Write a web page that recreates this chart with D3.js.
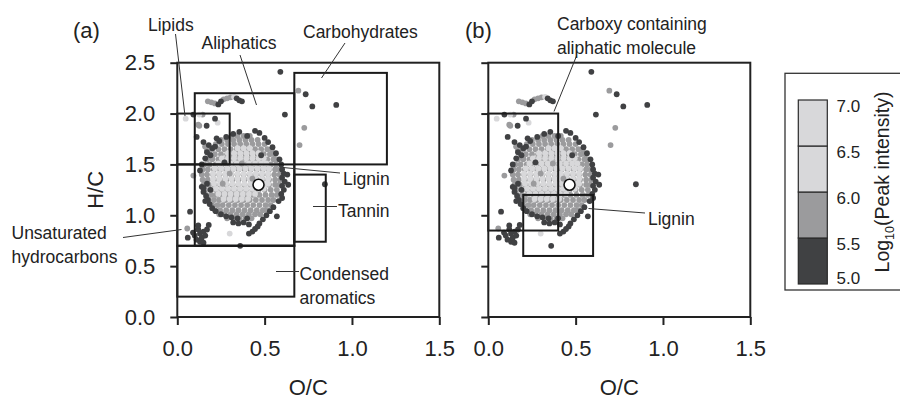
<!DOCTYPE html>
<html>
<head>
<meta charset="utf-8">
<script src="https://cdn.jsdelivr.net/npm/d3@7"></script>
<style>
body { margin: 0; background: #fff; }
svg text { font-family: "Liberation Sans", Arial, Helvetica, sans-serif; fill: #222; }
</style>
</head>
<body>
<svg id="chart" width="900" height="399"></svg>
<script>
// ---- data ----
// dense cloud, medium intensity (5.5-6.0): [H/C, [O/C ...]]
var blobMidRows = [
    [1.78, [0.31, 0.345, 0.38, 0.415]],
    [1.74, [0.25, 0.285, 0.32, 0.355, 0.39, 0.425, 0.46]],
    [1.70, [0.22, 0.255, 0.29, 0.325, 0.36, 0.395, 0.43, 0.465, 0.50]],
    [1.65, [0.20, 0.235, 0.27, 0.305, 0.34, 0.375, 0.41, 0.445, 0.48, 0.515, 0.54]],
    [1.60, [0.185, 0.215, 0.25, 0.285, 0.32, 0.355, 0.39, 0.425, 0.46, 0.495, 0.53, 0.555]],
    [1.55, [0.17, 0.20, 0.235, 0.27, 0.305, 0.34, 0.375, 0.41, 0.445, 0.48, 0.515, 0.55, 0.57]],
    [1.50, [0.155, 0.185, 0.22, 0.255, 0.29, 0.325, 0.36, 0.395, 0.43, 0.465, 0.50, 0.535, 0.565]],
    [1.45, [0.145, 0.175, 0.21, 0.245, 0.28, 0.315, 0.35, 0.385, 0.42, 0.455, 0.49, 0.525, 0.56, 0.585]],
    [1.40, [0.14, 0.17, 0.205, 0.24, 0.275, 0.31, 0.345, 0.38, 0.415, 0.45, 0.485, 0.52, 0.555, 0.585]],
    [1.35, [0.145, 0.175, 0.21, 0.245, 0.28, 0.315, 0.35, 0.385, 0.42, 0.455, 0.49, 0.525, 0.56, 0.59]],
    [1.30, [0.15, 0.18, 0.21, 0.245, 0.28, 0.315, 0.35, 0.385, 0.42, 0.455, 0.49, 0.525, 0.56, 0.585]],
    [1.25, [0.16, 0.19, 0.22, 0.255, 0.29, 0.325, 0.36, 0.395, 0.43, 0.465, 0.50, 0.535, 0.57]],
    [1.20, [0.165, 0.195, 0.225, 0.26, 0.295, 0.33, 0.365, 0.40, 0.435, 0.47, 0.505, 0.54, 0.57]],
    [1.15, [0.18, 0.21, 0.24, 0.275, 0.31, 0.345, 0.38, 0.415, 0.45, 0.485, 0.52, 0.55]],
    [1.10, [0.20, 0.23, 0.26, 0.295, 0.33, 0.365, 0.40, 0.435, 0.47, 0.505, 0.535]],
    [1.05, [0.215, 0.245, 0.28, 0.315, 0.35, 0.385, 0.42, 0.455, 0.49, 0.515]],
    [1.01, [0.24, 0.27, 0.305, 0.34, 0.375, 0.41, 0.445, 0.475]],
    [0.97, [0.285, 0.32, 0.355, 0.39, 0.425]]
];

// dense cloud, high intensity (6.0-7.0)
var blobLightRows = [
    [1.66, [0.345, 0.38, 0.415]],
    [1.61, [0.29, 0.325, 0.36, 0.395, 0.43, 0.465]],
    [1.56, [0.255, 0.29, 0.325, 0.36, 0.395, 0.43, 0.465, 0.495]],
    [1.51, [0.235, 0.27, 0.305, 0.34, 0.375, 0.41, 0.445, 0.48, 0.51]],
    [1.46, [0.215, 0.25, 0.285, 0.32, 0.355, 0.39, 0.425, 0.46, 0.495, 0.525]],
    [1.41, [0.205, 0.24, 0.275, 0.31, 0.345, 0.38, 0.415, 0.45, 0.485, 0.52]],
    [1.36, [0.205, 0.24, 0.275, 0.31, 0.345, 0.38, 0.415, 0.45, 0.485, 0.52]],
    [1.31, [0.21, 0.245, 0.28, 0.315, 0.35, 0.385, 0.42, 0.455, 0.49, 0.52]],
    [1.26, [0.22, 0.255, 0.29, 0.325, 0.36, 0.395, 0.43, 0.465, 0.495]],
    [1.21, [0.235, 0.27, 0.305, 0.34, 0.375, 0.41, 0.445]],
    [1.16, [0.265, 0.30, 0.335, 0.37, 0.405]]
];

// single points, low intensity (5.0-5.5): [O/C, H/C]
var darkPts = [
    [0.28, 1.77], [0.32, 1.80], [0.355, 1.82], [0.40, 1.78], [0.445, 1.83], [0.47, 1.81],
    [0.50, 1.76],
    [0.15, 1.72], [0.18, 1.69], [0.20, 1.66], [0.216, 1.675], [0.225, 1.757], [0.24, 1.73],
    [0.17, 1.62], [0.19, 1.59], [0.16, 1.56],
    [0.52, 1.72], [0.545, 1.67], [0.565, 1.61],
    [0.585, 1.55], [0.595, 1.50], [0.60, 1.45], [0.61, 1.41], [0.60, 1.37], [0.615, 1.33],
    [0.60, 1.29], [0.61, 1.25], [0.595, 1.21], [0.60, 1.17], [0.58, 1.14],
    [0.63, 1.40], [0.635, 1.30],
    [0.14, 1.50], [0.13, 1.44], [0.14, 1.28], [0.15, 1.23],
    [0.165, 1.19], [0.175, 1.15], [0.185, 1.11], [0.16, 1.14],
    [0.15, 1.27], [0.17, 1.31], [0.19, 1.25], [0.27, 1.52], [0.48, 1.59],
    [0.20, 1.07], [0.22, 1.04], [0.25, 1.01], [0.28, 0.99], [0.31, 0.98], [0.345, 0.97],
    [0.40, 0.97], [0.35, 0.92], [0.38, 0.93], [0.32, 0.93], [0.41, 0.91],
    [0.47, 0.92], [0.49, 0.96], [0.51, 1.00], [0.53, 1.04], [0.55, 1.08], [0.43, 0.84],
    [0.445, 0.865], [0.46, 0.89], [0.57, 0.99], [0.41, 0.82],
    [0.06, 0.78], [0.09, 0.83], [0.10, 0.80], [0.11, 0.76], [0.12, 0.86], [0.13, 0.82],
    [0.13, 0.74], [0.14, 0.78], [0.15, 0.84], [0.15, 0.73], [0.16, 0.80], [0.17, 0.86],
    [0.12, 0.90], [0.18, 0.905], [0.073, 1.035], [0.36, 0.70],
    [0.092, 1.99], [0.216, 1.95], [0.168, 1.88], [0.111, 1.77], [0.616, 1.99], [0.59, 2.41],
    [0.235, 2.09], [0.25, 2.12], [0.34, 2.15], [0.355, 2.13], [0.37, 2.12],
    [0.735, 2.19], [0.773, 2.07], [0.91, 2.085], [0.845, 1.305]
];

// single points, medium intensity
var midPts = [
    [0.145, 1.99], [0.126, 1.88], [0.12, 1.89], [0.159, 1.675], [0.092, 1.39], [0.057, 0.87],
    [0.175, 2.12], [0.195, 2.11], [0.215, 2.10], [0.265, 2.14], [0.285, 2.15], [0.305, 2.16],
    [0.693, 2.225], [0.727, 1.86], [0.70, 1.69],
    [0.17, 1.64], [0.18, 1.61], [0.19, 1.58], [0.20, 1.56],
    [0.30, 1.41], [0.37, 1.51], [0.43, 1.36], [0.26, 1.31]
];

// single points, high intensity
var lightPts = [
    [0.048, 1.95], [0.126, 1.99], [0.231, 1.91], [0.325, 2.165], [0.30, 0.82]
];

// mean composition (open circle)
var meanPt = [0.465, 1.30];

// compound class boxes: [O/C min, O/C max, H/C min, H/C max]
var boxesA = [
    [0, 0.3, 1.5, 2.0],
    [0.1, 0.67, 0.7, 2.2],
    [0, 0.67, 0.7, 1.5],
    [0.67, 1.2, 1.5, 2.4],
    [0.67, 0.85, 0.74, 1.4],
    [0, 0.67, 0.2, 0.7]
];
var boxesB = [
    [0, 0.4, 0.85, 2.0],
    [0.2, 0.6, 0.6, 1.2]
];

var xTicks = [0, 0.5, 1.0, 1.5];
var yTicks = [0, 0.5, 1.0, 1.5, 2.0, 2.5];

// colour bar: log10 peak intensity classes
var legendBands = [[5.0, 5.5], [5.5, 6.0], [6.0, 6.5], [6.5, 7.0]];
var legendTicks = [5.0, 5.5, 6.0, 6.5, 7.0];

// ---- styling / layout ----
var grey = {dark: "#404143", mid: "#9b9b9d", light: "#d8d8da"};
var bandColor = ["#404143", "#9b9b9d", "#d8d8da", "#d8d8da"];
var dotR = 2.9;
var plotTop = 62.7, plotBottom = 317, plotW = 262;

// annotations, pixel positions: text lines, text x, first baseline, leader line
var notesA = [
    {lines: ["Lipids"], x: 148, y: 31, line: [175.5, 34, 185, 116]},
    {lines: ["Aliphatics"], x: 201.5, y: 49, line: [240, 55, 256.5, 105]},
    {lines: ["Carbohydrates"], x: 303, y: 38, line: [345, 43, 321.5, 78]},
    {lines: ["Lignin"], x: 343, y: 184.5, line: [340, 173, 283, 167.5]},
    {lines: ["Tannin"], x: 338, y: 216.5, line: [313, 206.5, 337, 206.5]},
    {lines: ["Condensed", "aromatics"], x: 299.5, y: 280, line: [276, 271.5, 299, 271.5]},
    {lines: ["Unsaturated", "hydrocarbons"], x: 11.5, y: 238.5, line: [123, 237.5, 181.5, 229.5]}
];
var notesB = [
    {lines: ["Carboxy containing", "aliphatic molecule"], x: 557, y: 29.5, line: [576.5, 56, 554, 111.5]},
    {lines: ["Lignin"], x: 648, y: 225, line: [645, 213, 588.5, 208.5]}
];

var panels = [
    {tag: "(a)", tagX: 73, left: 177.3, boxes: boxesA, notes: notesA, yLabels: true},
    {tag: "(b)", tagX: 465, left: 488.3, boxes: boxesB, notes: notesB, yLabels: false}
];

function flattenRows(rows) {
    var out = [];
    rows.forEach(function(r) {
        r[1].forEach(function(oc) { out.push([oc, r[0]]); });
    });
    return out;
}

var layers = [
    {pts: flattenRows(blobMidRows), color: grey.mid},
    {pts: flattenRows(blobLightRows), color: grey.light},
    {pts: midPts, color: grey.mid},
    {pts: lightPts, color: grey.light},
    {pts: darkPts, color: grey.dark}
];

var svg = d3.select("#chart");

panels.forEach(function(p) {
    // set the ranges
    var x = d3.scaleLinear().domain([0, 1.5]).range([p.left, p.left + plotW]);
    var y = d3.scaleLinear().domain([0, 2.5]).range([plotBottom, plotTop]);

    var g = svg.append("g");

    // scatter
    layers.forEach(function(L) {
        g.append("g").selectAll("circle")
            .data(L.pts)
            .enter().append("circle")
            .attr("cx", function(d) { return x(d[0]); })
            .attr("cy", function(d) { return y(d[1]); })
            .attr("r", dotR)
            .style("fill", L.color);
    });

    g.append("circle")
        .attr("cx", x(meanPt[0]))
        .attr("cy", y(meanPt[1]))
        .attr("r", 5.5)
        .style("fill", "#fff")
        .style("stroke", "#111")
        .style("stroke-width", 1.6);

    // class boxes
    g.selectAll(".box")
        .data(p.boxes)
        .enter().append("rect")
        .attr("class", "box")
        .attr("x", function(d) { return x(d[0]); })
        .attr("y", function(d) { return y(d[3]); })
        .attr("width", function(d) { return x(d[1]) - x(d[0]); })
        .attr("height", function(d) { return y(d[2]) - y(d[3]); })
        .style("fill", "none")
        .style("stroke", "#1a1a1a")
        .style("stroke-width", 2);

    // frame
    g.append("rect")
        .attr("x", x(0)).attr("y", y(2.5))
        .attr("width", x(1.5) - x(0)).attr("height", y(0) - y(2.5))
        .style("fill", "none").style("stroke", "#222").style("stroke-width", 2);

    // axes
    var ya = g.append("g")
        .attr("transform", "translate(" + x(0) + ",0)")
        .call(d3.axisLeft(y).tickValues(yTicks).tickSize(7).tickPadding(15)
            .tickFormat(p.yLabels ? d3.format(".1f") : function() { return ""; }));
    var xa = g.append("g")
        .attr("transform", "translate(0," + y(0) + ")")
        .call(d3.axisBottom(x).tickValues(xTicks).tickSize(8).tickPadding(15)
            .tickFormat(d3.format(".1f")));
    [ya, xa].forEach(function(a) {
        a.select(".domain").remove();
        a.selectAll(".tick line").style("stroke", "#222").style("stroke-width", 2);
        a.selectAll(".tick text").style("font-size", "22px").style("fill", "#222")
            .style("font-family", "'Liberation Sans', Arial, sans-serif");
    });

    // axis titles
    g.append("text")
        .attr("x", (x(0) + x(1.5)) / 2)
        .attr("y", 395)
        .attr("text-anchor", "middle")
        .style("font-size", "22px")
        .text("O/C");
    if (p.yLabels) {
        g.append("text")
            .attr("transform", "translate(103," + ((plotTop + plotBottom) / 2) + ") rotate(-90)")
            .attr("text-anchor", "middle")
            .style("font-size", "22px")
            .text("H/C");
    }

    // panel tag
    g.append("text").attr("x", p.tagX).attr("y", 38)
        .style("font-size", "22px").text(p.tag);

    // annotations
    p.notes.forEach(function(n) {
        g.append("line")
            .attr("x1", n.line[0]).attr("y1", n.line[1])
            .attr("x2", n.line[2]).attr("y2", n.line[3])
            .style("stroke", "#333").style("stroke-width", 1);
        var t = g.append("text").attr("x", n.x).attr("y", n.y)
            .style("font-size", "17.5px");
        n.lines.forEach(function(s, i) {
            t.append("tspan").attr("x", n.x).attr("dy", i ? 24 : 0).text(s);
        });
    });
});

// ---- colour bar legend ----
var leg = svg.append("g");
leg.append("rect")
    .attr("x", 785).attr("y", 73.3).attr("width", 125).attr("height", 216.7)
    .style("fill", "#fff").style("stroke", "#333").style("stroke-width", 1.3);

var c = d3.scaleLinear().domain([5, 7]).range([284, 100]);

leg.selectAll(".band")
    .data(legendBands)
    .enter().append("rect")
    .attr("class", "band")
    .attr("x", 798.3)
    .attr("width", 29)
    .attr("y", function(d) { return c(d[1]); })
    .attr("height", function(d) { return c(d[0]) - c(d[1]); })
    .style("fill", function(d, i) { return bandColor[i]; })
    .style("stroke", "#2a2a2a")
    .style("stroke-width", 1.2);

leg.selectAll(".lt")
    .data(legendTicks)
    .enter().append("text")
    .attr("class", "lt")
    .attr("x", 836.5)
    .attr("y", function(d) { return Math.min(c(d) + 12, c(5)); })
    .style("font-size", "17px")
    .text(function(d) { return d3.format(".1f")(d); });

var lt = leg.append("text")
    .attr("transform", "translate(889,182) rotate(-90)")
    .attr("text-anchor", "middle")
    .style("font-size", "19.5px");
lt.append("tspan").text("Log");
lt.append("tspan").attr("dy", 5).style("font-size", "12.5px").text("10");
lt.append("tspan").attr("dy", -5).text("(Peak intensity)");
</script>
</body>
</html>
